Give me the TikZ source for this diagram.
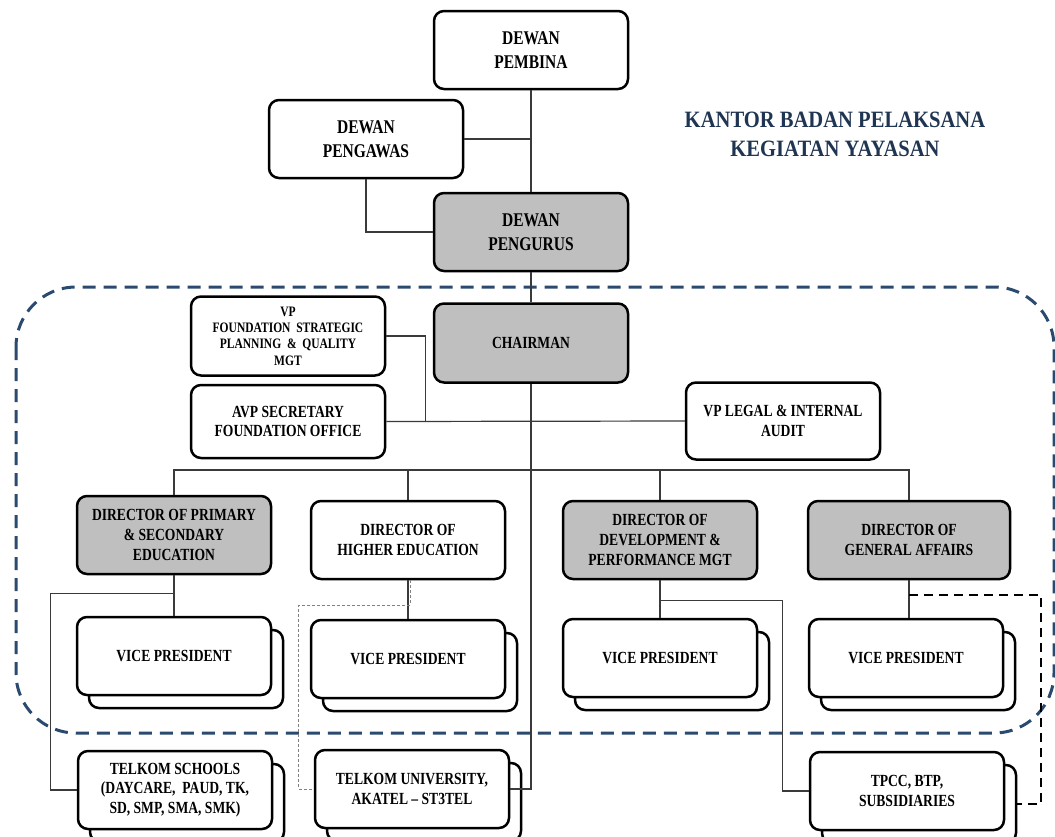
\documentclass[tikz,border=0pt]{standalone}
\usepackage{fontspec}
\setmainfont{Liberation Serif}[FakeStretch=0.8]
\newfontfamily\titlefont{Liberation Serif}[FakeStretch=0.88]
\usepackage{tikz}
\usetikzlibrary{positioning,calc,shadows}
\definecolor{ink}{HTML}{000000}
\definecolor{navy}{HTML}{2B4A6F}
\definecolor{heading}{HTML}{1F3552}
\definecolor{shade}{HTML}{BFBFBF}
\definecolor{wire}{HTML}{3A3A3A}
\tikzset{
  box/.style={rectangle, rounded corners=5pt, draw=ink, line width=1.25pt, fill=white,
              align=center, font=\bfseries\fontsize{8.5}{9.8}\selectfont, inner sep=2pt,
              minimum width=97pt, minimum height=39pt, text=ink},
  board/.style={box, font=\bfseries\fontsize{9.7}{12}\selectfont},
  lead/.style={box, fill=shade},
  stack/.style={box, copy shadow={shadow xshift=6pt, shadow yshift=-6.5pt, draw=ink, fill=white}},
  ln/.style={draw=wire, line width=0.6pt},
  lndot/.style={draw=gray, line width=0.5pt, dash pattern=on 1.5pt off 1pt},
  lnx/.style={draw=ink, line width=1pt, dash pattern=on 4.5pt off 3pt},
  frame/.style={draw=navy, line width=1.5pt, dash pattern=on 6.5pt off 4pt, rounded corners=30pt},
  ttl/.style={align=center, text=heading, font=\titlefont\bfseries\fontsize{11.7}{14.5}\selectfont}
}

\begin{document}
\begin{tikzpicture}[x=0.5pt, y=-0.5pt]
  \useasboundingbox (0,0) rectangle (1055,836);
  % executive office frame
  \draw[frame] (16,287) rectangle (1054,733);

  % boards
  \node[board] (pembina) at (531,50) {DEWAN\\PEMBINA};
  \node[board] (pengawas) at (366,139) {DEWAN\\PENGAWAS};
  \node[board, fill=shade] (pengurus) at (531,232) {DEWAN\\PENGURUS};
  \node[ttl] (title) at (835,134) {KANTOR BADAN PELAKSANA\\KEGIATAN YAYASAN};

  % office
  \node[lead, minimum height=39.5pt] (chair) at (531,343) {CHAIRMAN};
  \node[box, minimum height=39.5pt, font=\bfseries\fontsize{7.2}{8.2}\selectfont] (vpf) at (288,336)
       {VP\\FOUNDATION~ STRATEGIC\\PLANNING ~\&~ QUALITY\\MGT};
  \node[box, minimum height=36.5pt, below=3.5pt of vpf] (avp) {AVP SECRETARY\\FOUNDATION OFFICE};
  \node[box, minimum height=38.5pt] (legal) at (783,421) {VP LEGAL \& INTERNAL\\AUDIT};

  % directors
  \node[lead] (dir1) at (174,535) {DIRECTOR OF PRIMARY\\\& SECONDARY\\EDUCATION};
  \node[box] (dir2) at (408,540) {DIRECTOR OF\\HIGHER EDUCATION};
  \node[lead] (dir3) at (660,540) {DIRECTOR OF\\DEVELOPMENT \&\\PERFORMANCE MGT};
  \node[lead, minimum width=101pt] (dir4) at (909,540) {DIRECTOR OF\\GENERAL AFFAIRS};

  % vice presidents
  \node[stack] (vp1) at (174,656) {VICE PRESIDENT};
  \node[stack] (vp2) at (408,659) {VICE PRESIDENT};
  \node[stack] (vp3) at (660,658) {VICE PRESIDENT};
  \node[stack] (vp4) at (906,658) {VICE PRESIDENT};

  % units
  \node[stack] (tsch) at (175,790) {TELKOM SCHOOLS\\(DAYCARE, ~PAUD, TK,\\SD, SMP, SMA, SMK)};
  \node[stack] (tuniv) at (412,789) {TELKOM UNIVERSITY,\\AKATEL -- ST3TEL};
  \node[stack] (tpcc) at (907,791) {TPCC, BTP,\\SUBSIDIARIES};

  % links
  \draw[ln] (pembina) -- (pengurus);
  \draw[ln] (pengawas.east) -- (pengawas.east -| pembina);
  \draw[ln] (pengawas) |- (pengurus.west);
  \draw[ln] (pengurus) -- (chair);
  \draw[ln] (vpf.east) -- ++(39,0) coordinate (jog) -- (jog |- avp.east);
  \draw[ln] (avp.east) -- (legal.west);
  \draw[ln] (chair.south) |- (tuniv.east);
  \coordinate (bus) at (0,470);
  \draw[ln] (dir1.north) |- (bus -| dir4.north) -- (dir4.north);
  \draw[ln] (dir2.north) -- (dir2.north |- bus);
  \draw[ln] (dir3.north) -- (dir3.north |- bus);
  \draw[ln] (dir1.south) -- (dir1.south |- vp1.north);
  \draw[ln] (dir2.south) -- (dir2.south |- vp2.north);
  \draw[ln] (dir3.south) -- (dir3.south |- vp3.north);
  \draw[ln] (dir4.south) -- (dir4.south |- vp4.north);
  \draw[ln] ($(dir1.south)+(0,18)$) -| ($(tsch.west)+(-26,0)$) -- (tsch.west);
  \draw[lndot] ($(dir2.south)+(2,0)$) -- ++(0,25) -| ($(tuniv.west)+(-15,0)$) -- (tuniv.west);
  \draw[ln] ($(dir3.south)+(0,20)$) -| ($(tpcc.west)+(-26,0)$) -- (tpcc.west);
  \draw[lnx] ($(dir4.south)+(0,15)$) -| ($(tpcc.east)+(36,13)$) -- ($(tpcc.east)+(12,13)$);
\end{tikzpicture}
\end{document}
